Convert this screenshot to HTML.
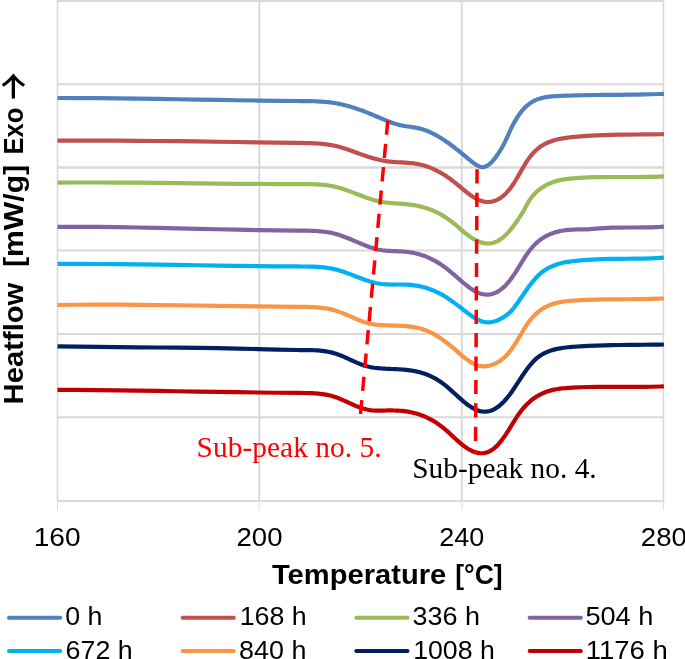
<!DOCTYPE html>
<html><head><meta charset="utf-8"><title>DSC heatflow</title>
<style>html,body{margin:0;padding:0;background:#fff}svg{display:block}</style>
</head><body>
<svg width="685" height="659" viewBox="0 0 685 659">
<rect width="685" height="659" fill="#fff"/>
<g stroke="#D9D9D9" fill="none">
<line x1="57.5" y1="0.2" x2="57.5" y2="501.5" stroke-width="1.6"/>
<line x1="259.3" y1="0.2" x2="259.3" y2="501.5" stroke-width="2.0"/>
<line x1="461.8" y1="0.2" x2="461.8" y2="501.5" stroke-width="2.0"/>
<line x1="663.4" y1="0.2" x2="663.4" y2="501.5" stroke-width="1.6"/>
<line x1="56.8" y1="1.0" x2="664.1" y2="1.0" stroke-width="2.0"/>
<line x1="56.8" y1="84.25" x2="664.1" y2="84.25" stroke-width="2.0"/>
<line x1="56.8" y1="167.5" x2="664.1" y2="167.5" stroke-width="2.7"/>
<line x1="56.8" y1="250.5" x2="664.1" y2="250.5" stroke-width="1.9"/>
<line x1="56.8" y1="334.0" x2="664.1" y2="334.0" stroke-width="2.0"/>
<line x1="56.8" y1="417.35" x2="664.1" y2="417.35" stroke-width="2.0"/>
<line x1="56.8" y1="500.95" x2="664.1" y2="500.95" stroke-width="2.0"/>
<line x1="57.5" y1="501.5" x2="57.5" y2="510" stroke-width="0.9"/>
<line x1="259.3" y1="501.5" x2="259.3" y2="510" stroke-width="0.9"/>
<line x1="461.8" y1="501.5" x2="461.8" y2="510" stroke-width="0.9"/>
<line x1="663.4" y1="501.5" x2="663.4" y2="510" stroke-width="0.9"/>
</g>
<g fill="none" stroke-width="4.2" stroke-linejoin="round" stroke-linecap="butt">
<path stroke="#4F81BD" d="M57.5 98.00 L77.5 98.05 L97.5 98.18 L117.5 98.38 L137.5 98.63 L157.5 98.92 L177.5 99.24 L197.5 99.58 L217.5 99.91 L237.5 100.24 L257.5 100.54 L277.5 100.80 L297.5 101.01 L300.0 101.04 L302.0 101.05 L304.0 101.07 L306.0 101.09 L308.0 101.12 L310.0 101.16 L312.0 101.20 L314.0 101.26 L316.0 101.33 L318.0 101.42 L320.0 101.53 L322.0 101.66 L324.0 101.80 L326.0 101.98 L328.0 102.18 L330.0 102.41 L332.0 102.67 L334.0 102.97 L336.0 103.30 L338.0 103.66 L340.0 104.07 L342.0 104.51 L344.0 104.98 L346.0 105.49 L348.0 106.03 L350.0 106.60 L352.0 107.20 L354.0 107.82 L356.0 108.48 L358.0 109.16 L360.0 109.86 L362.0 110.59 L364.0 111.33 L366.0 112.10 L368.0 112.89 L370.0 113.69 L372.0 114.52 L374.0 115.35 L376.0 116.20 L378.0 117.05 L380.0 117.91 L382.0 118.76 L384.0 119.59 L386.0 120.41 L388.0 121.21 L390.0 121.97 L392.0 122.70 L394.0 123.39 L396.0 124.02 L398.0 124.59 L400.0 125.09 L402.0 125.52 L404.0 125.89 L406.0 126.21 L408.0 126.51 L410.0 126.79 L412.0 127.07 L414.0 127.38 L416.0 127.72 L418.0 128.12 L420.0 128.58 L422.0 129.13 L424.0 129.76 L426.0 130.48 L428.0 131.27 L430.0 132.14 L432.0 133.08 L434.0 134.08 L436.0 135.16 L438.0 136.29 L440.0 137.49 L442.0 138.74 L444.0 140.04 L446.0 141.40 L448.0 142.79 L450.0 144.24 L452.0 145.72 L454.0 147.24 L456.0 148.79 L458.0 150.37 L460.0 151.97 L462.0 153.60 L464.0 155.24 L466.0 156.89 L468.0 158.55 L470.0 160.20 L472.0 161.84 L474.0 163.39 L476.0 164.78 L478.0 165.91 L480.0 166.72 L482.0 167.11 L484.0 167.00 L486.0 166.37 L488.0 165.24 L490.0 163.66 L492.0 161.70 L494.0 159.39 L496.0 156.79 L498.0 153.94 L500.0 150.87 L502.0 147.53 L504.0 143.85 L506.0 139.78 L508.0 135.32 L510.0 130.83 L512.0 126.65 L514.0 122.83 L516.0 119.35 L518.0 116.21 L520.0 113.38 L522.0 110.84 L524.0 108.59 L526.0 106.59 L528.0 104.84 L530.0 103.32 L532.0 102.00 L534.0 100.87 L536.0 99.92 L538.0 99.13 L540.0 98.47 L542.0 97.93 L544.0 97.50 L546.0 97.14 L548.0 96.86 L550.0 96.62 L552.0 96.43 L554.0 96.27 L556.0 96.14 L558.0 96.03 L560.0 95.94 L562.0 95.85 L564.0 95.76 L566.0 95.69 L568.0 95.61 L570.0 95.54 L572.0 95.48 L574.0 95.42 L576.0 95.37 L578.0 95.32 L580.0 95.27 L588.0 95.11 L596.0 95.00 L604.0 94.92 L612.0 94.86 L620.0 94.79 L628.0 94.72 L636.0 94.61 L644.0 94.47 L652.0 94.27 L660.0 94.00 L663.9 93.84"/>
<path stroke="#C0504D" d="M57.5 140.61 L77.5 140.57 L97.5 140.59 L117.5 140.68 L137.5 140.81 L157.5 140.99 L177.5 141.21 L197.5 141.46 L217.5 141.73 L237.5 142.02 L257.5 142.31 L277.5 142.61 L297.5 142.90 L300.0 142.94 L302.0 142.97 L304.0 143.00 L306.0 143.03 L308.0 143.08 L310.0 143.13 L312.0 143.20 L314.0 143.29 L316.0 143.39 L318.0 143.52 L320.0 143.67 L322.0 143.84 L324.0 144.05 L326.0 144.29 L328.0 144.56 L330.0 144.88 L332.0 145.23 L334.0 145.62 L336.0 146.06 L338.0 146.55 L340.0 147.09 L342.0 147.66 L344.0 148.28 L346.0 148.92 L348.0 149.59 L350.0 150.28 L352.0 150.98 L354.0 151.70 L356.0 152.43 L358.0 153.16 L360.0 153.89 L362.0 154.61 L364.0 155.32 L366.0 156.01 L368.0 156.68 L370.0 157.32 L372.0 157.94 L374.0 158.52 L376.0 159.06 L378.0 159.56 L380.0 160.02 L382.0 160.43 L384.0 160.81 L386.0 161.13 L388.0 161.41 L390.0 161.64 L392.0 161.83 L394.0 161.99 L396.0 162.12 L398.0 162.24 L400.0 162.35 L402.0 162.45 L404.0 162.56 L406.0 162.68 L408.0 162.82 L410.0 162.99 L412.0 163.19 L414.0 163.43 L416.0 163.72 L418.0 164.07 L420.0 164.48 L422.0 164.96 L424.0 165.52 L426.0 166.14 L428.0 166.83 L430.0 167.60 L432.0 168.43 L434.0 169.32 L436.0 170.29 L438.0 171.32 L440.0 172.41 L442.0 173.57 L444.0 174.80 L446.0 176.08 L448.0 177.43 L450.0 178.84 L452.0 180.30 L454.0 181.83 L456.0 183.42 L458.0 185.05 L460.0 186.72 L462.0 188.40 L464.0 190.06 L466.0 191.70 L468.0 193.27 L470.0 194.78 L472.0 196.18 L474.0 197.47 L476.0 198.63 L478.0 199.62 L480.0 200.45 L482.0 201.10 L484.0 201.58 L486.0 201.88 L488.0 201.98 L490.0 201.89 L492.0 201.59 L494.0 201.08 L496.0 200.36 L498.0 199.42 L500.0 198.25 L502.0 196.85 L504.0 195.21 L506.0 193.31 L508.0 191.15 L510.0 188.72 L512.0 186.01 L514.0 183.00 L516.0 179.76 L518.0 176.36 L520.0 172.87 L522.0 169.38 L524.0 165.95 L526.0 162.67 L528.0 159.61 L530.0 156.85 L532.0 154.37 L534.0 152.16 L536.0 150.21 L538.0 148.47 L540.0 146.95 L542.0 145.61 L544.0 144.44 L546.0 143.41 L548.0 142.50 L550.0 141.70 L552.0 140.98 L554.0 140.34 L556.0 139.77 L558.0 139.28 L560.0 138.84 L562.0 138.46 L564.0 138.12 L566.0 137.83 L568.0 137.57 L570.0 137.34 L572.0 137.13 L574.0 136.94 L576.0 136.76 L578.0 136.59 L580.0 136.43 L588.0 135.87 L596.0 135.44 L604.0 135.11 L612.0 134.87 L620.0 134.70 L628.0 134.59 L636.0 134.50 L644.0 134.43 L652.0 134.36 L660.0 134.27 L663.9 134.21"/>
<path stroke="#9BBB59" d="M57.5 182.61 L77.5 182.50 L97.5 182.49 L117.5 182.57 L137.5 182.71 L157.5 182.90 L177.5 183.12 L197.5 183.36 L217.5 183.59 L237.5 183.80 L257.5 183.97 L277.5 184.08 L297.5 184.13 L300.0 184.13 L302.0 184.13 L304.0 184.13 L306.0 184.13 L308.0 184.15 L310.0 184.17 L312.0 184.21 L314.0 184.27 L316.0 184.35 L318.0 184.45 L320.0 184.58 L322.0 184.74 L324.0 184.94 L326.0 185.16 L328.0 185.43 L330.0 185.74 L332.0 186.10 L334.0 186.50 L336.0 186.96 L338.0 187.46 L340.0 188.02 L342.0 188.63 L344.0 189.27 L346.0 189.95 L348.0 190.66 L350.0 191.40 L352.0 192.15 L354.0 192.91 L356.0 193.68 L358.0 194.46 L360.0 195.23 L362.0 195.99 L364.0 196.74 L366.0 197.46 L368.0 198.17 L370.0 198.84 L372.0 199.47 L374.0 200.07 L376.0 200.62 L378.0 201.11 L380.0 201.55 L382.0 201.93 L384.0 202.25 L386.0 202.52 L388.0 202.75 L390.0 202.95 L392.0 203.12 L394.0 203.26 L396.0 203.40 L398.0 203.53 L400.0 203.66 L402.0 203.80 L404.0 203.95 L406.0 204.13 L408.0 204.34 L410.0 204.58 L412.0 204.86 L414.0 205.17 L416.0 205.53 L418.0 205.93 L420.0 206.37 L422.0 206.87 L424.0 207.41 L426.0 208.01 L428.0 208.67 L430.0 209.39 L432.0 210.17 L434.0 211.02 L436.0 211.93 L438.0 212.92 L440.0 213.98 L442.0 215.12 L444.0 216.33 L446.0 217.63 L448.0 219.00 L450.0 220.45 L452.0 221.97 L454.0 223.56 L456.0 225.21 L458.0 226.92 L460.0 228.65 L462.0 230.37 L464.0 232.06 L466.0 233.69 L468.0 235.23 L470.0 236.68 L472.0 238.01 L474.0 239.22 L476.0 240.30 L478.0 241.24 L480.0 242.03 L482.0 242.66 L484.0 243.12 L486.0 243.41 L488.0 243.50 L490.0 243.40 L492.0 243.10 L494.0 242.58 L496.0 241.83 L498.0 240.85 L500.0 239.65 L502.0 238.22 L504.0 236.57 L506.0 234.71 L508.0 232.65 L510.0 230.38 L512.0 227.92 L514.0 225.27 L516.0 222.49 L518.0 219.63 L520.0 216.69 L522.0 213.47 L524.0 209.93 L526.0 206.26 L528.0 202.71 L530.0 199.50 L532.0 196.76 L534.0 194.41 L536.0 192.40 L538.0 190.64 L540.0 189.07 L542.0 187.65 L544.0 186.37 L546.0 185.22 L548.0 184.18 L550.0 183.27 L552.0 182.45 L554.0 181.74 L556.0 181.11 L558.0 180.57 L560.0 180.10 L562.0 179.70 L564.0 179.35 L566.0 179.06 L568.0 178.81 L570.0 178.60 L572.0 178.41 L574.0 178.25 L576.0 178.10 L578.0 177.96 L580.0 177.83 L588.0 177.43 L596.0 177.18 L604.0 177.05 L612.0 177.00 L620.0 177.00 L628.0 177.01 L636.0 177.01 L644.0 176.96 L652.0 176.83 L660.0 176.58 L663.9 176.40"/>
<path stroke="#8064A2" d="M57.5 226.80 L77.5 226.79 L97.5 226.92 L117.5 227.15 L137.5 227.48 L157.5 227.88 L177.5 228.32 L197.5 228.78 L217.5 229.24 L237.5 229.67 L257.5 230.06 L277.5 230.38 L297.5 230.61 L300.0 230.63 L302.0 230.64 L304.0 230.66 L306.0 230.68 L308.0 230.72 L310.0 230.76 L312.0 230.82 L314.0 230.90 L316.0 231.01 L318.0 231.14 L320.0 231.30 L322.0 231.49 L324.0 231.72 L326.0 231.98 L328.0 232.30 L330.0 232.66 L332.0 233.06 L334.0 233.53 L336.0 234.05 L338.0 234.62 L340.0 235.26 L342.0 235.94 L344.0 236.67 L346.0 237.44 L348.0 238.23 L350.0 239.05 L352.0 239.89 L354.0 240.73 L356.0 241.59 L358.0 242.44 L360.0 243.28 L362.0 244.11 L364.0 244.92 L366.0 245.70 L368.0 246.45 L370.0 247.16 L372.0 247.82 L374.0 248.43 L376.0 248.98 L378.0 249.46 L380.0 249.87 L382.0 250.21 L384.0 250.48 L386.0 250.69 L388.0 250.85 L390.0 250.97 L392.0 251.07 L394.0 251.14 L396.0 251.21 L398.0 251.28 L400.0 251.36 L402.0 251.46 L404.0 251.60 L406.0 251.77 L408.0 252.00 L410.0 252.28 L412.0 252.61 L414.0 253.00 L416.0 253.45 L418.0 253.95 L420.0 254.52 L422.0 255.15 L424.0 255.84 L426.0 256.59 L428.0 257.42 L430.0 258.31 L432.0 259.28 L434.0 260.31 L436.0 261.42 L438.0 262.61 L440.0 263.87 L442.0 265.21 L444.0 266.64 L446.0 268.14 L448.0 269.71 L450.0 271.33 L452.0 273.00 L454.0 274.70 L456.0 276.43 L458.0 278.15 L460.0 279.88 L462.0 281.58 L464.0 283.26 L466.0 284.90 L468.0 286.48 L470.0 287.99 L472.0 289.38 L474.0 290.65 L476.0 291.75 L478.0 292.66 L480.0 293.40 L482.0 293.95 L484.0 294.33 L486.0 294.53 L488.0 294.54 L490.0 294.35 L492.0 293.96 L494.0 293.35 L496.0 292.52 L498.0 291.46 L500.0 290.17 L502.0 288.65 L504.0 286.90 L506.0 284.91 L508.0 282.69 L510.0 280.24 L512.0 277.54 L514.0 274.62 L516.0 271.53 L518.0 268.31 L520.0 265.05 L522.0 261.78 L524.0 258.58 L526.0 255.51 L528.0 252.63 L530.0 249.98 L532.0 247.56 L534.0 245.37 L536.0 243.38 L538.0 241.58 L540.0 239.97 L542.0 238.52 L544.0 237.24 L546.0 236.10 L548.0 235.09 L550.0 234.20 L552.0 233.42 L554.0 232.74 L556.0 232.13 L558.0 231.61 L560.0 231.16 L562.0 230.77 L564.0 230.45 L566.0 230.18 L568.0 229.96 L570.0 229.79 L572.0 229.66 L574.0 229.56 L576.0 229.50 L578.0 229.46 L580.0 229.43 L588.0 229.31 L596.0 228.70 L604.0 228.07 L612.0 227.71 L620.0 227.54 L628.0 227.49 L636.0 227.48 L644.0 227.44 L652.0 227.29 L660.0 226.96 L663.9 226.70"/>
<path stroke="#00B0F0" d="M57.5 263.90 L77.5 263.90 L97.5 264.00 L117.5 264.16 L137.5 264.39 L157.5 264.66 L177.5 264.95 L197.5 265.26 L217.5 265.57 L237.5 265.86 L257.5 266.11 L277.5 266.32 L297.5 266.46 L300.0 266.48 L302.0 266.49 L304.0 266.50 L306.0 266.52 L308.0 266.54 L310.0 266.58 L312.0 266.63 L314.0 266.70 L316.0 266.80 L318.0 266.91 L320.0 267.05 L322.0 267.23 L324.0 267.44 L326.0 267.68 L328.0 267.96 L330.0 268.29 L332.0 268.66 L334.0 269.09 L336.0 269.56 L338.0 270.09 L340.0 270.67 L342.0 271.30 L344.0 271.96 L346.0 272.66 L348.0 273.39 L350.0 274.14 L352.0 274.90 L354.0 275.67 L356.0 276.44 L358.0 277.21 L360.0 277.98 L362.0 278.72 L364.0 279.45 L366.0 280.15 L368.0 280.81 L370.0 281.44 L372.0 282.02 L374.0 282.55 L376.0 283.02 L378.0 283.42 L380.0 283.76 L382.0 284.03 L384.0 284.23 L386.0 284.37 L388.0 284.46 L390.0 284.51 L392.0 284.53 L394.0 284.53 L396.0 284.52 L398.0 284.50 L400.0 284.49 L402.0 284.50 L404.0 284.53 L406.0 284.60 L408.0 284.71 L410.0 284.86 L412.0 285.05 L414.0 285.30 L416.0 285.59 L418.0 285.93 L420.0 286.33 L422.0 286.78 L424.0 287.29 L426.0 287.85 L428.0 288.47 L430.0 289.16 L432.0 289.91 L434.0 290.72 L436.0 291.61 L438.0 292.56 L440.0 293.58 L442.0 294.67 L444.0 295.84 L446.0 297.08 L448.0 298.39 L450.0 299.76 L452.0 301.17 L454.0 302.63 L456.0 304.12 L458.0 305.64 L460.0 307.17 L462.0 308.71 L464.0 310.25 L466.0 311.77 L468.0 313.28 L470.0 314.76 L472.0 316.16 L474.0 317.48 L476.0 318.69 L478.0 319.76 L480.0 320.68 L482.0 321.41 L484.0 321.93 L486.0 322.24 L488.0 322.36 L490.0 322.28 L492.0 322.01 L494.0 321.56 L496.0 320.94 L498.0 320.15 L500.0 319.21 L502.0 318.11 L504.0 316.88 L506.0 315.51 L508.0 313.99 L510.0 312.25 L512.0 310.18 L514.0 307.74 L516.0 305.03 L518.0 302.18 L520.0 299.28 L522.0 296.36 L524.0 293.46 L526.0 290.59 L528.0 287.80 L530.0 285.10 L532.0 282.51 L534.0 280.08 L536.0 277.81 L538.0 275.73 L540.0 273.86 L542.0 272.20 L544.0 270.72 L546.0 269.41 L548.0 268.25 L550.0 267.21 L552.0 266.28 L554.0 265.45 L556.0 264.72 L558.0 264.07 L560.0 263.50 L562.0 263.00 L564.0 262.56 L566.0 262.18 L568.0 261.85 L570.0 261.55 L572.0 261.29 L574.0 261.05 L576.0 260.83 L578.0 260.63 L580.0 260.44 L588.0 259.82 L596.0 259.39 L604.0 259.11 L612.0 258.94 L620.0 258.84 L628.0 258.77 L636.0 258.68 L644.0 258.55 L652.0 258.31 L660.0 257.95 L663.9 257.71"/>
<path stroke="#F79646" d="M57.5 305.00 L77.5 304.77 L97.5 304.67 L117.5 304.68 L137.5 304.79 L157.5 304.98 L177.5 305.23 L197.5 305.52 L217.5 305.83 L237.5 306.13 L257.5 306.42 L277.5 306.67 L297.5 306.86 L300.0 306.88 L302.0 306.89 L304.0 306.91 L306.0 306.94 L308.0 306.97 L310.0 307.02 L312.0 307.09 L314.0 307.18 L316.0 307.30 L318.0 307.45 L320.0 307.63 L322.0 307.84 L324.0 308.10 L326.0 308.41 L328.0 308.76 L330.0 309.17 L332.0 309.63 L334.0 310.16 L336.0 310.75 L338.0 311.40 L340.0 312.12 L342.0 312.89 L344.0 313.70 L346.0 314.54 L348.0 315.41 L350.0 316.29 L352.0 317.17 L354.0 318.04 L356.0 318.90 L358.0 319.73 L360.0 320.53 L362.0 321.28 L364.0 321.97 L366.0 322.60 L368.0 323.16 L370.0 323.64 L372.0 324.04 L374.0 324.38 L376.0 324.66 L378.0 324.88 L380.0 325.06 L382.0 325.20 L384.0 325.31 L386.0 325.39 L388.0 325.45 L390.0 325.50 L392.0 325.55 L394.0 325.59 L396.0 325.64 L398.0 325.70 L400.0 325.78 L402.0 325.89 L404.0 326.01 L406.0 326.17 L408.0 326.37 L410.0 326.60 L412.0 326.88 L414.0 327.21 L416.0 327.59 L418.0 328.03 L420.0 328.53 L422.0 329.10 L424.0 329.74 L426.0 330.45 L428.0 331.25 L430.0 332.13 L432.0 333.11 L434.0 334.17 L436.0 335.33 L438.0 336.56 L440.0 337.87 L442.0 339.25 L444.0 340.70 L446.0 342.21 L448.0 343.77 L450.0 345.37 L452.0 347.02 L454.0 348.70 L456.0 350.42 L458.0 352.15 L460.0 353.88 L462.0 355.58 L464.0 357.23 L466.0 358.81 L468.0 360.30 L470.0 361.66 L472.0 362.89 L474.0 363.95 L476.0 364.82 L478.0 365.49 L480.0 365.95 L482.0 366.22 L484.0 366.30 L486.0 366.19 L488.0 365.91 L490.0 365.46 L492.0 364.85 L494.0 364.09 L496.0 363.17 L498.0 362.08 L500.0 360.80 L502.0 359.34 L504.0 357.66 L506.0 355.75 L508.0 353.61 L510.0 351.21 L512.0 348.55 L514.0 345.63 L516.0 342.50 L518.0 339.21 L520.0 335.84 L522.0 332.46 L524.0 329.16 L526.0 326.00 L528.0 323.06 L530.0 320.39 L532.0 317.98 L534.0 315.80 L536.0 313.84 L538.0 312.09 L540.0 310.54 L542.0 309.15 L544.0 307.92 L546.0 306.84 L548.0 305.88 L550.0 305.04 L552.0 304.29 L554.0 303.64 L556.0 303.07 L558.0 302.59 L560.0 302.17 L562.0 301.81 L564.0 301.51 L566.0 301.26 L568.0 301.05 L570.0 300.87 L572.0 300.71 L574.0 300.57 L576.0 300.44 L578.0 300.32 L580.0 300.21 L588.0 299.85 L596.0 299.61 L604.0 299.45 L612.0 299.35 L620.0 299.29 L628.0 299.25 L636.0 299.18 L644.0 299.08 L652.0 298.92 L660.0 298.66 L663.9 298.50"/>
<path stroke="#002060" d="M57.5 346.40 L77.5 346.72 L97.5 346.96 L117.5 347.16 L137.5 347.33 L157.5 347.49 L177.5 347.67 L197.5 347.90 L217.5 348.19 L237.5 348.56 L257.5 349.04 L277.5 349.61 L297.5 350.01 L300.0 350.03 L302.0 350.04 L304.0 350.05 L306.0 350.06 L308.0 350.08 L310.0 350.11 L312.0 350.16 L314.0 350.24 L316.0 350.34 L318.0 350.46 L320.0 350.63 L322.0 350.83 L324.0 351.08 L326.0 351.38 L328.0 351.73 L330.0 352.14 L332.0 352.61 L334.0 353.15 L336.0 353.76 L338.0 354.45 L340.0 355.20 L342.0 356.01 L344.0 356.87 L346.0 357.76 L348.0 358.67 L350.0 359.59 L352.0 360.52 L354.0 361.43 L356.0 362.32 L358.0 363.18 L360.0 363.99 L362.0 364.75 L364.0 365.43 L366.0 366.04 L368.0 366.57 L370.0 367.01 L372.0 367.39 L374.0 367.71 L376.0 367.97 L378.0 368.19 L380.0 368.37 L382.0 368.52 L384.0 368.65 L386.0 368.75 L388.0 368.85 L390.0 368.93 L392.0 369.01 L394.0 369.09 L396.0 369.17 L398.0 369.27 L400.0 369.38 L402.0 369.51 L404.0 369.67 L406.0 369.85 L408.0 370.07 L410.0 370.33 L412.0 370.63 L414.0 370.98 L416.0 371.38 L418.0 371.83 L420.0 372.34 L422.0 372.91 L424.0 373.55 L426.0 374.26 L428.0 375.04 L430.0 375.89 L432.0 376.83 L434.0 377.84 L436.0 378.95 L438.0 380.15 L440.0 381.44 L442.0 382.83 L444.0 384.32 L446.0 385.91 L448.0 387.59 L450.0 389.33 L452.0 391.12 L454.0 392.94 L456.0 394.77 L458.0 396.59 L460.0 398.39 L462.0 400.15 L464.0 401.84 L466.0 403.45 L468.0 404.96 L470.0 406.35 L472.0 407.62 L474.0 408.75 L476.0 409.71 L478.0 410.51 L480.0 411.12 L482.0 411.52 L484.0 411.71 L486.0 411.69 L488.0 411.43 L490.0 410.96 L492.0 410.26 L494.0 409.33 L496.0 408.18 L498.0 406.81 L500.0 405.23 L502.0 403.43 L504.0 401.43 L506.0 399.22 L508.0 396.81 L510.0 394.21 L512.0 391.41 L514.0 388.47 L516.0 385.44 L518.0 382.37 L520.0 379.29 L522.0 376.28 L524.0 373.35 L526.0 370.53 L528.0 367.84 L530.0 365.31 L532.0 362.95 L534.0 360.80 L536.0 358.87 L538.0 357.18 L540.0 355.72 L542.0 354.47 L544.0 353.38 L546.0 352.44 L548.0 351.61 L550.0 350.87 L552.0 350.22 L554.0 349.64 L556.0 349.14 L558.0 348.70 L560.0 348.32 L562.0 347.99 L564.0 347.71 L566.0 347.47 L568.0 347.26 L570.0 347.07 L572.0 346.91 L574.0 346.76 L576.0 346.62 L578.0 346.48 L580.0 346.35 L588.0 345.91 L596.0 345.57 L604.0 345.31 L612.0 345.11 L620.0 344.98 L628.0 344.88 L636.0 344.80 L644.0 344.73 L652.0 344.66 L660.0 344.57 L663.9 344.51"/>
<path stroke="#C00000" d="M57.5 389.80 L77.5 389.92 L97.5 390.11 L117.5 390.34 L137.5 390.62 L157.5 390.93 L177.5 391.25 L197.5 391.58 L217.5 391.91 L237.5 392.22 L257.5 392.50 L277.5 392.74 L297.5 392.94 L300.0 392.96 L302.0 392.97 L304.0 392.99 L306.0 393.02 L308.0 393.06 L310.0 393.12 L312.0 393.20 L314.0 393.30 L316.0 393.43 L318.0 393.60 L320.0 393.80 L322.0 394.05 L324.0 394.34 L326.0 394.68 L328.0 395.08 L330.0 395.54 L332.0 396.06 L334.0 396.65 L336.0 397.32 L338.0 398.06 L340.0 398.86 L342.0 399.72 L344.0 400.61 L346.0 401.52 L348.0 402.44 L350.0 403.36 L352.0 404.25 L354.0 405.11 L356.0 405.94 L358.0 406.71 L360.0 407.44 L362.0 408.11 L364.0 408.71 L366.0 409.24 L368.0 409.70 L370.0 410.07 L372.0 410.35 L374.0 410.53 L376.0 410.63 L378.0 410.66 L380.0 410.64 L382.0 410.59 L384.0 410.54 L386.0 410.49 L388.0 410.46 L390.0 410.45 L392.0 410.45 L394.0 410.48 L396.0 410.54 L398.0 410.64 L400.0 410.76 L402.0 410.93 L404.0 411.13 L406.0 411.39 L408.0 411.69 L410.0 412.05 L412.0 412.46 L414.0 412.93 L416.0 413.46 L418.0 414.05 L420.0 414.71 L422.0 415.44 L424.0 416.23 L426.0 417.10 L428.0 418.04 L430.0 419.06 L432.0 420.15 L434.0 421.32 L436.0 422.58 L438.0 423.92 L440.0 425.35 L442.0 426.87 L444.0 428.48 L446.0 430.18 L448.0 431.94 L450.0 433.76 L452.0 435.60 L454.0 437.45 L456.0 439.28 L458.0 441.08 L460.0 442.82 L462.0 444.48 L464.0 446.04 L466.0 447.48 L468.0 448.79 L470.0 449.95 L472.0 450.96 L474.0 451.80 L476.0 452.46 L478.0 452.93 L480.0 453.19 L482.0 453.24 L484.0 453.07 L486.0 452.67 L488.0 452.01 L490.0 451.10 L492.0 449.92 L494.0 448.45 L496.0 446.70 L498.0 444.67 L500.0 442.38 L502.0 439.86 L504.0 437.13 L506.0 434.21 L508.0 431.13 L510.0 427.92 L512.0 424.64 L514.0 421.37 L516.0 418.20 L518.0 415.20 L520.0 412.41 L522.0 409.83 L524.0 407.46 L526.0 405.27 L528.0 403.27 L530.0 401.45 L532.0 399.78 L534.0 398.27 L536.0 396.91 L538.0 395.68 L540.0 394.58 L542.0 393.59 L544.0 392.71 L546.0 391.93 L548.0 391.25 L550.0 390.65 L552.0 390.13 L554.0 389.68 L556.0 389.29 L558.0 388.97 L560.0 388.69 L562.0 388.45 L564.0 388.25 L566.0 388.08 L568.0 387.93 L570.0 387.79 L572.0 387.67 L574.0 387.55 L576.0 387.45 L578.0 387.35 L580.0 387.27 L588.0 387.02 L596.0 386.90 L604.0 386.86 L612.0 386.88 L620.0 386.92 L628.0 386.97 L636.0 386.97 L644.0 386.92 L652.0 386.77 L660.0 386.49 L663.9 386.30"/>
</g>
<g stroke="#FF0000" stroke-width="3.5" fill="none">
<line x1="387.8" y1="120.6" x2="360.5" y2="414" stroke-dasharray="14.2 9.19"/>
<line x1="477.05" y1="169.3" x2="475.5" y2="453.5" stroke-dasharray="14.2 9.2"/>
</g>
<g font-family="'Liberation Serif', serif" font-size="29.33">
<text x="196.6" y="456.9" fill="#FF0000" textLength="185.0" lengthAdjust="spacing">Sub-peak no. 5.</text>
<text x="412.2" y="478.0" fill="#000" textLength="184.5" lengthAdjust="spacing">Sub-peak no. 4.</text>
</g>
<g font-family="'Liberation Sans', sans-serif" font-size="26.5" fill="#000">
<text x="33.7" y="546" textLength="46.9" lengthAdjust="spacingAndGlyphs">160</text>
<text x="236.5" y="546" textLength="46.0" lengthAdjust="spacingAndGlyphs">200</text>
<text x="439.2" y="546" textLength="45.0" lengthAdjust="spacingAndGlyphs">240</text>
<text x="640.8" y="546" textLength="46.0" lengthAdjust="spacingAndGlyphs">280</text>
</g>
<g font-family="'Liberation Sans', sans-serif" font-weight="bold" font-size="27.2" fill="#000">
<text x="272" y="583.5" textLength="174.2" lengthAdjust="spacingAndGlyphs">Temperature</text>
<text x="455.2" y="583.5" textLength="47.5" lengthAdjust="spacingAndGlyphs">[°C]</text>
<g transform="translate(22.8 0) rotate(-90)">
<text x="-404.4" y="0" textLength="121.7" lengthAdjust="spacingAndGlyphs">Heatflow</text>
<text x="-267" y="0" textLength="102.2" lengthAdjust="spacingAndGlyphs">[mW/g]</text>
<text x="-154.5" y="0" textLength="47" lengthAdjust="spacingAndGlyphs">Exo</text>
</g>
</g>
<clipPath id="ac"><rect x="0" y="70" width="30" height="28.6"/></clipPath>
<g clip-path="url(#ac)"><text transform="translate(31.8 114.1) rotate(-90) scale(0.85 1)" font-family="'Noto Sans CJK SC', 'DejaVu Sans', sans-serif" font-size="49.4" fill="#000">→</text></g>
<g font-family="'Liberation Sans', sans-serif" font-size="26.5" fill="#000">
<line x1="9.0" y1="617.8" x2="60.2" y2="617.8" stroke="#4F81BD" stroke-width="4" stroke-linecap="round"/>
<text x="65.3" y="625.2" textLength="37.2" lengthAdjust="spacingAndGlyphs">0 h</text>
<line x1="182.6" y1="617.8" x2="233.8" y2="617.8" stroke="#C0504D" stroke-width="4" stroke-linecap="round"/>
<text x="239.7" y="625.2" textLength="67" lengthAdjust="spacingAndGlyphs">168 h</text>
<line x1="356.3" y1="617.8" x2="407.5" y2="617.8" stroke="#9BBB59" stroke-width="4" stroke-linecap="round"/>
<text x="412.4" y="625.2" textLength="67.5" lengthAdjust="spacingAndGlyphs">336 h</text>
<line x1="529.6" y1="617.8" x2="580.8000000000001" y2="617.8" stroke="#8064A2" stroke-width="4" stroke-linecap="round"/>
<text x="585.4" y="625.2" textLength="68" lengthAdjust="spacingAndGlyphs">504 h</text>
<line x1="9.0" y1="651.0999999999999" x2="60.2" y2="651.0999999999999" stroke="#00B0F0" stroke-width="4" stroke-linecap="round"/>
<text x="65.6" y="658.5" textLength="67.2" lengthAdjust="spacingAndGlyphs">672 h</text>
<line x1="182.6" y1="651.0999999999999" x2="233.8" y2="651.0999999999999" stroke="#F79646" stroke-width="4" stroke-linecap="round"/>
<text x="239.1" y="658.5" textLength="67.3" lengthAdjust="spacingAndGlyphs">840 h</text>
<line x1="356.3" y1="651.0999999999999" x2="407.5" y2="651.0999999999999" stroke="#002060" stroke-width="4" stroke-linecap="round"/>
<text x="413.2" y="658.5" textLength="81.6" lengthAdjust="spacingAndGlyphs">1008 h</text>
<line x1="529.6" y1="651.0999999999999" x2="580.8000000000001" y2="651.0999999999999" stroke="#C00000" stroke-width="4" stroke-linecap="round"/>
<text x="585.8" y="658.5" textLength="82" lengthAdjust="spacingAndGlyphs">1176 h</text>
</g>
</svg>
</body></html>
